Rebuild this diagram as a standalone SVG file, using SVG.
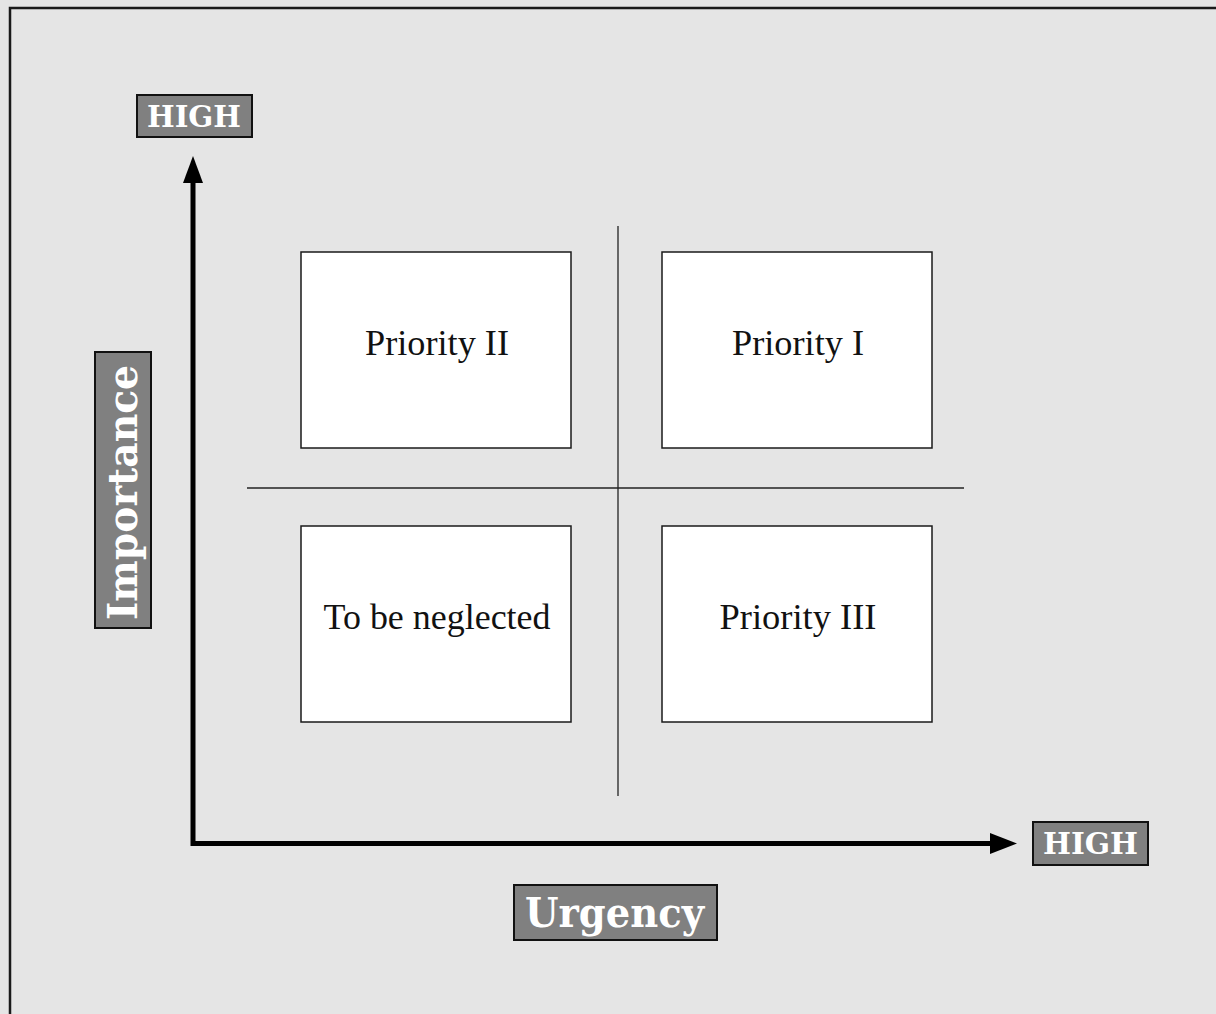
<svg xmlns="http://www.w3.org/2000/svg" width="1216" height="1014" viewBox="0 0 1216 1014">
<defs>
<style>
.lbl{fill:#808080;stroke:#111;stroke-width:2}
.lt{fill:#fff;font-family:"DejaVu Serif","Liberation Serif",serif;font-weight:bold}
.box{fill:#fff;stroke:#1a1a1a;stroke-width:1.5}
.bt{fill:#111;font-family:"Liberation Serif","DejaVu Serif",serif;font-size:36px;text-anchor:middle}
.ax{stroke:#000;stroke-width:5;fill:none}
.dv{stroke:#222;stroke-width:1.3;fill:none}
</style>
</defs>
<rect x="0" y="0" width="1216" height="1014" fill="#e5e5e5"/>
<rect x="10" y="8" width="1230" height="1030" fill="#e5e5e5" stroke="#1a1a1a" stroke-width="2.5"/>
<g id="connectors">
<line class="dv" x1="618" y1="226" x2="618" y2="796"/>
<line class="dv" x1="247" y1="488" x2="964" y2="488"/>
<path class="ax" d="M193,183 L193,843.5 L990,843.5"/>
<polygon points="193,156 183,183 203,183" fill="#000"/>
<polygon points="1017,843.5 990,833 990,854" fill="#000"/>
</g>
<g id="high-top">
<rect class="lbl" x="137" y="95" width="115" height="42"/>
<text class="lt" x="147" y="127" font-size="30" textLength="94" lengthAdjust="spacingAndGlyphs">HIGH</text>
</g>
<g id="high-right">
<rect class="lbl" x="1033" y="822" width="115" height="43"/>
<text class="lt" x="1043" y="854" font-size="30" textLength="95" lengthAdjust="spacingAndGlyphs">HIGH</text>
</g>
<g id="importance">
<rect class="lbl" x="95" y="352" width="56" height="276"/>
<text class="lt" transform="translate(137,620) rotate(-90)" x="0" y="0" font-size="41" textLength="255" lengthAdjust="spacingAndGlyphs">Importance</text>
</g>
<g id="urgency">
<rect class="lbl" x="514" y="885" width="203" height="55"/>
<text class="lt" x="525" y="927" font-size="41" textLength="179" lengthAdjust="spacingAndGlyphs">Urgency</text>
</g>
<g id="priority2">
<rect class="box" x="301" y="252" width="270" height="196"/>
<text class="bt" x="437" y="355" textLength="144" lengthAdjust="spacingAndGlyphs">Priority II</text>
</g>
<g id="priority1">
<rect class="box" x="662" y="252" width="270" height="196"/>
<text class="bt" x="798" y="355" textLength="132" lengthAdjust="spacingAndGlyphs">Priority I</text>
</g>
<g id="neglected">
<rect class="box" x="301" y="526" width="270" height="196"/>
<text class="bt" x="437" y="629" textLength="227" lengthAdjust="spacingAndGlyphs">To be neglected</text>
</g>
<g id="priority3">
<rect class="box" x="662" y="526" width="270" height="196"/>
<text class="bt" x="798" y="629" textLength="157" lengthAdjust="spacingAndGlyphs">Priority III</text>
</g>
</svg>
